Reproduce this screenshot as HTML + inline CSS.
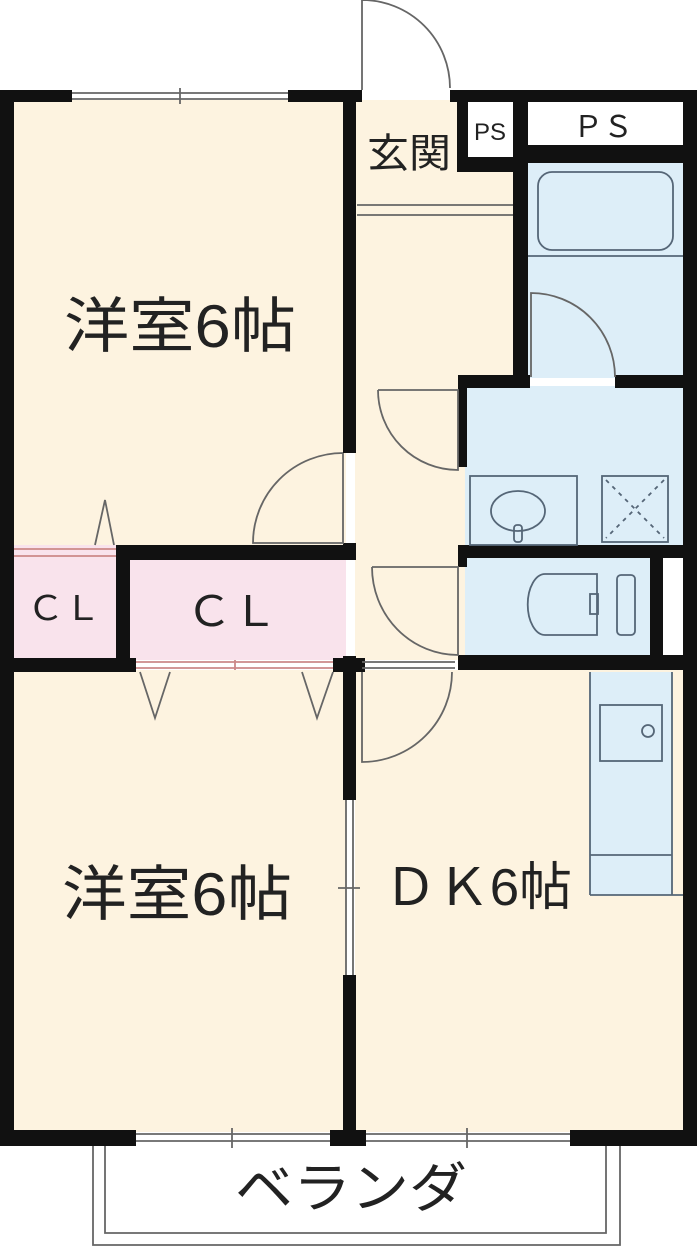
<!DOCTYPE html>
<html><head><meta charset="utf-8"><style>
html,body{margin:0;padding:0;background:#fff;}
svg{display:block;}
text{font-family:"Liberation Sans","Noto Sans CJK JP",sans-serif;fill:#222;}
</style></head><body>
<svg width="700" height="1254" viewBox="0 0 700 1254" xmlns="http://www.w3.org/2000/svg">
<!-- fills -->
<rect x="14" y="100" width="332" height="445" fill="#fdf3e0"/>
<rect x="355" y="100" width="160" height="560" fill="#fdf3e0"/>
<rect x="14" y="670" width="332" height="462" fill="#fdf3e0"/>
<rect x="355" y="670" width="330" height="462" fill="#fdf3e0"/>
<rect x="14" y="545" width="104" height="115" fill="#f9e3ec"/>
<rect x="128" y="558" width="218" height="102" fill="#f9e3ec"/>
<rect x="526" y="160" width="158" height="218" fill="#ddeef8"/>
<rect x="465" y="386" width="220" height="162" fill="#ddeef8"/>
<rect x="465" y="556" width="188" height="104" fill="#ddeef8"/>
<rect x="590" y="672" width="82" height="223" fill="#ddeef8"/>
<rect x="663" y="556" width="22" height="104" fill="#fff"/>
<rect x="468" y="102" width="45" height="55" fill="#fff"/>
<rect x="528" y="102" width="155" height="43" fill="#fff"/>

<g fill="#111">
<rect x="0" y="90" width="14" height="1056"/>
<rect x="0" y="90" width="72" height="12"/>
<rect x="288" y="90" width="74" height="12"/>
<rect x="450" y="90" width="247" height="12"/>
<rect x="683" y="90" width="14" height="1056"/>
<rect x="343" y="90" width="13" height="363"/>
<rect x="343" y="543" width="13" height="17"/>
<rect x="343" y="656" width="13" height="144"/>
<rect x="343" y="975" width="13" height="171"/>
<rect x="457" y="90" width="11" height="82"/>
<rect x="457" y="157" width="71" height="15"/>
<rect x="513" y="90" width="15" height="288"/>
<rect x="513" y="145" width="184" height="18"/>
<rect x="458" y="375" width="72" height="13"/>
<rect x="615" y="375" width="82" height="13"/>
<rect x="458" y="375" width="9" height="92"/>
<rect x="458" y="545" width="239" height="13"/>
<rect x="458" y="545" width="9" height="22"/>
<rect x="650" y="545" width="13" height="113"/>
<rect x="458" y="655" width="239" height="15"/>
<rect x="116" y="545" width="240" height="15"/>
<rect x="116" y="545" width="14" height="125"/>
<rect x="0" y="658" width="136" height="14"/>
<rect x="333" y="658" width="32" height="14"/>
<rect x="0" y="1130" width="136" height="16"/>
<rect x="330" y="1130" width="36" height="16"/>
<rect x="570" y="1130" width="127" height="16"/>
</g>

<g fill="none" stroke="#666" stroke-width="1.8">
<line x1="72" y1="93" x2="288" y2="93"/><line x1="72" y1="99" x2="288" y2="99"/><line x1="180" y1="88" x2="180" y2="104"/>
<line x1="136" y1="1134" x2="330" y2="1134"/><line x1="136" y1="1141" x2="330" y2="1141"/><line x1="232" y1="1128" x2="232" y2="1148"/>
<line x1="366" y1="1134" x2="570" y2="1134"/><line x1="366" y1="1141" x2="570" y2="1141"/><line x1="467" y1="1128" x2="467" y2="1148"/>
<line x1="346" y1="800" x2="346" y2="975"/><line x1="353" y1="800" x2="353" y2="975"/><line x1="338" y1="888" x2="360" y2="888"/>
<path d="M362 90 L362 0 A88 88 0 0 1 450 88"/>
<line x1="357" y1="205" x2="513" y2="205"/><line x1="357" y1="215" x2="513" y2="215"/>
<rect x="538" y="172" width="135" height="78" rx="14" stroke="#567"/>
<line x1="528" y1="256" x2="683" y2="256" stroke="#567"/>
<path d="M531 377 L531 293 A84 84 0 0 1 615 377"/>
<path d="M343 453 L343 543 L253 543 A90 90 0 0 1 343 453"/>
<path d="M378 390 L458 390 L458 470 A80 80 0 0 1 378 390"/>
<path d="M372 567 L458 567 L458 655 A86 88 0 0 1 372 567"/>
<path d="M362 672 L362 762 A90 90 0 0 0 452 672"/>
<line x1="362" y1="662" x2="455" y2="662"/><line x1="362" y1="668" x2="455" y2="668"/>
<rect x="470" y="476" width="107" height="69" stroke="#567"/>
<ellipse cx="518" cy="511" rx="27" ry="20" stroke="#567"/>
<rect x="514" y="525" width="8" height="17" rx="3" stroke="#567"/>
<rect x="602" y="476" width="66" height="66" stroke="#567"/>
<path d="M606 480 L664 538 M664 480 L606 538" stroke="#567" stroke-dasharray="4 5"/>
<path d="M597 574 L545 574 A17 30 0 0 0 545 635 L597 635 Z" stroke="#567"/>
<rect x="590" y="594" width="8" height="20" stroke="#567"/>
<rect x="617" y="575" width="18" height="60" rx="4" stroke="#567"/>
<rect x="600" y="705" width="62" height="56" stroke="#567"/>
<circle cx="648" cy="731" r="6" stroke="#567"/>
<line x1="590" y1="855" x2="672" y2="855" stroke="#567"/>
<line x1="590" y1="672" x2="590" y2="895" stroke="#567"/>
<line x1="590" y1="895" x2="683" y2="895" stroke="#567"/>
<line x1="672" y1="672" x2="672" y2="895" stroke="#567"/>
<line x1="14" y1="549" x2="116" y2="549" stroke="#c88"/><line x1="14" y1="556" x2="116" y2="556" stroke="#c88"/>
<line x1="136" y1="662" x2="333" y2="662" stroke="#c88"/><line x1="136" y1="668" x2="333" y2="668" stroke="#c88"/><line x1="235" y1="660" x2="235" y2="670" stroke="#c88"/>
<path d="M95 545 L105 500 L114 545"/>
<path d="M140 672 L155 718 L170 672"/>
<path d="M302 672 L317 718 L333 672"/>
<path d="M93 1146 L93 1245 L620 1245 L620 1146"/>
<path d="M105 1146 L105 1233 L606 1233 L606 1146"/>
</g>

<text x="64" y="347" font-size="60" textLength="232" lengthAdjust="spacingAndGlyphs">洋室6帖</text>
<text x="62" y="915" font-size="60" textLength="230" lengthAdjust="spacingAndGlyphs">洋室6帖</text>
<text x="384" y="905" font-size="52" textLength="188" lengthAdjust="spacingAndGlyphs">ＤＫ6帖</text>
<text x="367" y="167" font-size="40" textLength="84" lengthAdjust="spacingAndGlyphs">玄関</text>
<text x="474" y="140" font-size="24" textLength="32" lengthAdjust="spacingAndGlyphs">PS</text>
<text x="573" y="137" font-size="30" textLength="60" lengthAdjust="spacingAndGlyphs">ＰＳ</text>
<text x="27" y="620" font-size="34" textLength="74" lengthAdjust="spacingAndGlyphs">ＣＬ</text>
<text x="186" y="626" font-size="42" textLength="92" lengthAdjust="spacingAndGlyphs">ＣＬ</text>
<text x="235" y="1207" font-size="54" textLength="232" lengthAdjust="spacingAndGlyphs">ベランダ</text>
</svg>
</body></html>
